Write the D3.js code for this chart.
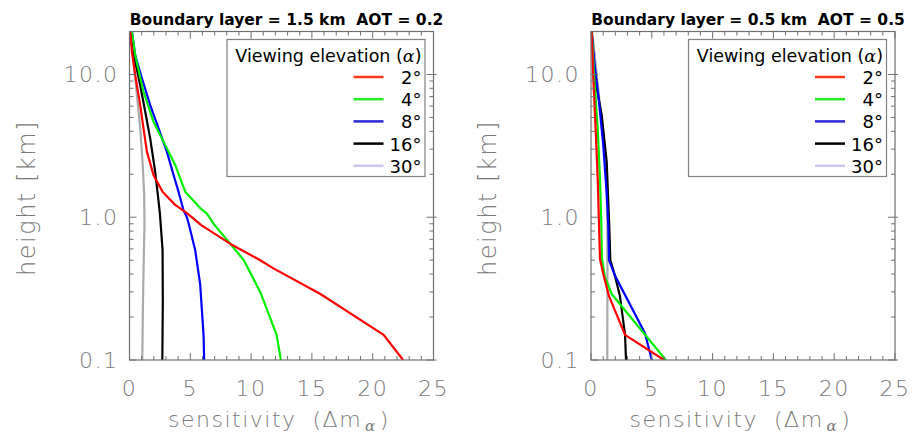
<!DOCTYPE html>
<html><head><meta charset="utf-8">
<script src="https://cdn.jsdelivr.net/npm/d3@7"></script>
<style>
body{margin:0;background:#fff;}
svg{display:block;}
.tick-label{font-family:"DejaVu Sans";font-weight:200;fill:#7a7a7a;}
</style></head>
<body>
<svg id="chart" width="912" height="435"></svg>
<script>
// ---- data: [height km, sensitivity] pairs ----
const heightDomain = [0.1, 20];
const sensDomain = [0, 25];
const xTickValues = [0, 5, 10, 15, 20, 25];
const yTickValues = [0.1, 1, 10];
const yTickLabels = ["0.1", "1.0", "10.0"];
const seriesNames = ["2°", "4°", "8°", "16°", "30°"];
const lineColors = ["#ff0000", "#00ee00", "#0000ff", "#000000", "#aaaaaa"];
const legendColors = ["#ff3a1a", "#22ee22", "#2a2ad0", "#000000", "#c8c8f0"];
const panelTitles = ["Boundary layer = 1.5 km  AOT = 0.2", "Boundary layer = 0.5 km  AOT = 0.5"];

const left2 = [[20,0.06],[14.4,0.2],[9.9,0.47],[6.1,0.88],[4.2,1.15],[2.88,1.43],[1.98,1.97],[1.51,2.72],[1.22,3.76],[1.07,4.72],[0.88,5.9],[0.65,8.3],[0.5,10.75],[0.44,11.8],[0.29,15.7],[0.15,20.9],[0.1,22.5]];
const left4 = [[20,0.2],[13.6,0.47],[7.57,1.15],[4.67,1.97],[3.2,2.94],[2.32,3.76],[1.51,4.58],[1.16,5.81],[1.06,6.36],[0.88,7.0],[0.65,8.3],[0.5,9.4],[0.3,10.75],[0.15,12.1],[0.1,12.45]];
const left8 = [[20,0.2],[13.6,0.47],[9.4,1.02],[6.1,1.7],[4.2,2.39],[2.88,3.07],[1.98,3.62],[1.51,4.03],[1.12,4.44],[1.0,4.72],[0.88,4.9],[0.59,5.4],[0.34,5.81],[0.15,6.09],[0.1,6.14]];
const left16 = [[20,0.12],[12.3,0.47],[8.4,0.88],[5.5,1.29],[3.57,1.7],[2.09,2.11],[1.29,2.39],[1.06,2.5],[0.59,2.72],[0.26,2.74],[0.1,2.7]];
const left30 = [[20,0.06],[12.3,0.33],[7.2,0.61],[4.2,0.88],[2.45,1.07],[1.43,1.21],[0.88,1.23],[0.3,1.12],[0.1,1.05]];

const right2 = [[20,0.05],[9.4,0.19],[4.2,0.38],[1.87,0.55],[0.88,0.66],[0.51,0.74],[0.40,1.01],[0.28,1.48],[0.15,2.8],[0.1,6.0]];
const right4 = [[20,0.05],[9.4,0.27],[4.2,0.55],[1.87,0.74],[0.88,0.85],[0.51,0.9],[0.38,1.15],[0.29,1.7],[0.1,6.15]];
const right8 = [[20,0.05],[12.3,0.27],[7.2,0.6],[3.2,1.01],[1.43,1.3],[0.88,1.42],[0.5,1.48],[0.39,1.97],[0.154,4.44],[0.1,5.0]];
const right16 = [[20,0.05],[9.4,0.33],[5.19,0.88],[2.45,1.29],[0.88,1.5],[0.5,1.59],[0.39,1.97],[0.28,2.38],[0.15,2.8],[0.1,2.88]];
const right30 = [[20,0.1],[9.4,0.5],[4.2,0.95],[1.9,1.25],[0.88,1.35],[0.3,1.35],[0.1,1.34]];

const panels = [
  {left:129.5, title:panelTitles[0], series:[left2,left4,left8,left16,left30]},
  {left:591, title:panelTitles[1], series:[right2,right4,right8,right16,right30]}
];
const drawOrder = [4,3,2,1,0];

const svg = d3.select("#chart");
const W = 304, plotTop = 31.5, plotBottom = 360;
const frameColor = "#707070";

panels.forEach(p => {
  const g = svg.append("g").attr("transform", `translate(${p.left},0)`);
  const x = d3.scaleLinear().domain(sensDomain).range([0, W]);
  const y = d3.scaleLog().domain(heightDomain).range([plotBottom, plotTop]);

  const clipId = "clip" + Math.round(p.left);
  g.append("clipPath").attr("id", clipId).append("rect")
    .attr("x", 0).attr("y", plotTop).attr("width", W).attr("height", plotBottom - plotTop);
  const line = d3.line().x(d => x(d[1])).y(d => y(d[0]));
  drawOrder.forEach(i => {
    g.append("path").attr("d", line(p.series[i]))
      .attr("fill", "none").attr("stroke", lineColors[i])
      .attr("stroke-width", 2.2).attr("stroke-linejoin", "round")
      .attr("clip-path", `url(#${clipId})`);
  });

  g.append("rect").attr("x", 0).attr("y", plotTop).attr("width", W).attr("height", plotBottom - plotTop)
    .attr("fill", "none").attr("stroke", frameColor).attr("stroke-width", 1.2);

  const xMinor = d3.range(1, 25).filter(v => v % 5 !== 0);
  const ticks = g.append("g").attr("stroke", frameColor).attr("stroke-width", 1);
  xMinor.forEach(v => {
    ticks.append("line").attr("x1", x(v)).attr("x2", x(v)).attr("y1", plotBottom).attr("y2", plotBottom - 4);
    ticks.append("line").attr("x1", x(v)).attr("x2", x(v)).attr("y1", plotTop).attr("y2", plotTop + 4);
  });
  xTickValues.forEach(v => {
    ticks.append("line").attr("x1", x(v)).attr("x2", x(v)).attr("y1", plotBottom).attr("y2", plotBottom - 7);
    ticks.append("line").attr("x1", x(v)).attr("x2", x(v)).attr("y1", plotTop).attr("y2", plotTop + 7);
  });
  const yMinor = [];
  [0.1, 1].forEach(d => { for (let k = 2; k <= 9; k++) yMinor.push(d * k); });
  yMinor.forEach(v => {
    ticks.append("line").attr("x1", 0).attr("x2", 4).attr("y1", y(v)).attr("y2", y(v));
    ticks.append("line").attr("x1", W).attr("x2", W - 4).attr("y1", y(v)).attr("y2", y(v));
  });
  yTickValues.forEach(v => {
    ticks.append("line").attr("x1", 0).attr("x2", 7).attr("y1", y(v)).attr("y2", y(v));
    ticks.append("line").attr("x1", W + 3).attr("x2", W - 7).attr("y1", y(v)).attr("y2", y(v));
  });

  xTickValues.forEach(v => {
    g.append("text").attr("class", "tick-label").attr("x", x(v)).attr("y", 396)
      .attr("text-anchor", "middle").attr("font-size", 22).attr("letter-spacing", 1.5)
      .text(v);
  });
  yTickValues.forEach((v, i) => {
    g.append("text").attr("class", "tick-label").attr("x", -11).attr("y", y(v) + 8)
      .attr("text-anchor", "end").attr("font-size", 22).attr("letter-spacing", 1.5)
      .text(yTickLabels[i]);
  });

  const xt = g.append("text").attr("class", "tick-label").attr("x", 38.5).attr("y", 427)
    .attr("text-anchor", "start").attr("font-size", 22).attr("letter-spacing", 1.5);
  xt.append("tspan").text("sensitivity");
  xt.append("tspan").attr("dx", 16).text("(Δm");
  xt.append("tspan").attr("font-family", "DejaVu Serif").attr("font-style", "italic")
    .attr("font-size", 15).attr("dy", 4).attr("dx", 3).text("α");
  xt.append("tspan").attr("dy", -4).attr("dx", 3).text(")");
  g.append("text").attr("class", "tick-label")
    .attr("transform", `translate(-103,198) rotate(-90)`)
    .attr("text-anchor", "middle").attr("font-size", 24).attr("letter-spacing", 1.5)
    .attr("dy", 8).text("height [km]");

  g.append("text").attr("x", W / 2 + 5).attr("y", 25).attr("text-anchor", "middle")
    .style("white-space", "pre")
    .attr("font-family", "DejaVu Sans").attr("font-weight", "bold").attr("font-size", 15.5)
    .attr("fill", "#000").text(p.title);

  const lg = g.append("g");
  lg.append("rect").attr("x", 97.5).attr("y", 39.5).attr("width", 198).attr("height", 137)
    .attr("fill", "#fff").attr("stroke", "#808080").attr("stroke-width", 1.2);
  const lt = lg.append("text").attr("x", 292).attr("y", 62).attr("text-anchor", "end")
    .attr("font-family", "DejaVu Sans").attr("font-size", 17.5).attr("fill", "#000");
  lt.append("tspan").text("Viewing elevation (");
  lt.append("tspan").attr("font-family", "DejaVu Serif").attr("font-style", "italic").text("α");
  lt.append("tspan").text(")");
  seriesNames.forEach((n, i) => {
    const ly = 77 + i * 22.2;
    lg.append("line").attr("x1", 224).attr("x2", 254).attr("y1", ly).attr("y2", ly)
      .attr("stroke", legendColors[i]).attr("stroke-width", 2.5);
    lg.append("text").attr("x", 292).attr("y", ly + 7).attr("text-anchor", "end")
      .attr("font-family", "DejaVu Sans").attr("font-size", 18).attr("fill", "#000").text(n);
  });
});
</script>
</body></html>
